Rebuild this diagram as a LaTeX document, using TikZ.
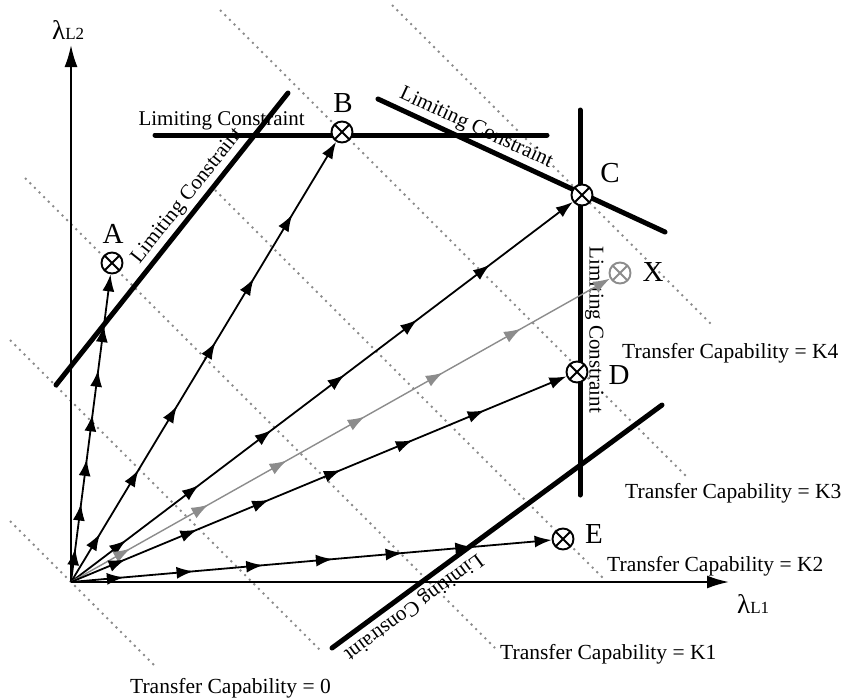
\documentclass[tikz,border=0pt]{standalone}
\usepackage{fontspec}
\setmainfont{Liberation Serif}
\usetikzlibrary{arrows.meta,decorations.markings,calc}
\begin{document}
\begin{tikzpicture}[x=1pt,y=-1pt,
  axis/.style={line width=2pt, -{Latex[length=22pt,width=13pt]}},
  limit/.style={line width=5pt, line cap=round},
  iso/.style={line width=1.8pt, black!45, dash pattern=on 2pt off 4.5pt},
  midarrows/.style={decoration={markings,
      mark=at position 0.11 with {\arrow{Latex[length=17pt,width=12pt]}},
      mark=at position 0.255 with {\arrow{Latex[length=17pt,width=12pt]}},
      mark=at position 0.40 with {\arrow{Latex[length=17pt,width=12pt]}},
      mark=at position 0.545 with {\arrow{Latex[length=17pt,width=12pt]}},
      mark=at position 0.69 with {\arrow{Latex[length=17pt,width=12pt]}},
      mark=at position 0.835 with {\arrow{Latex[length=17pt,width=12pt]}}},
    postaction={decorate}},
  flow/.style={line width=1.8pt, -{Latex[length=17pt,width=12pt]}, midarrows},
  mk/.style={circle, draw=#1, fill=white, line width=1.9pt, minimum size=21pt, inner sep=0pt,
    path picture={\draw[line width=1.9pt, #1] (path picture bounding box.north west) -- (path picture bounding box.south east)
      (path picture bounding box.north east) -- (path picture bounding box.south west);}},
  mk/.default=black,
  ptlabel/.style={font=\fontsize{29}{30}\selectfont, inner sep=0pt},
  tclabel/.style={font=\fontsize{21.5}{24}\selectfont, inner sep=0pt, anchor=base west},
  lclabel/.style={font=\fontsize{21}{24}\selectfont, inner sep=5pt, sloped, above, allow upside down},
]
\fill[white] (0,0) rectangle (848,699);
\useasboundingbox (0,0) rectangle (848,699);

% iso transfer capability lines
\coordinate (t0a) at (10,521);  \coordinate (t0b) at (157,668);
\coordinate (tha) at (10,340);  \coordinate (thb) at (320,650);
\coordinate (t1a) at (25,178);  \coordinate (t1b) at (495,648);
\coordinate (t2a) at (215,190); \coordinate (t2b) at (603,578);
\coordinate (t3a) at (220,10);  \coordinate (t3b) at (687,477);
\coordinate (t4a) at (392,5);   \coordinate (t4b) at (712,325);
\draw[iso] (t0a) -- (t0b);
\draw[iso] (tha) -- (thb);
\draw[iso] (t1a) -- (t1b);
\draw[iso] (t2a) -- (t2b);
\draw[iso] (t3a) -- (t3b);
\draw[iso] (t4a) -- (t4b);

% axes
\coordinate (O) at (71,582);
\coordinate (yend) at (71,45);
\coordinate (xend) at (729,582);
\draw[axis] (O) -- (yend);
\draw[axis] (O) -- (xend);
\node[anchor=base west, inner sep=0pt] (lx) at (737,613) {{\fontsize{27}{27}\selectfont λ}{\fontsize{17}{17}\selectfont L1}};
\node[anchor=base west, inner sep=0pt] (ly) at (52,39) {{\fontsize{27}{27}\selectfont λ}{\fontsize{17}{17}\selectfont L2}};

% limiting constraints
\coordinate (c1a) at (56,385);  \coordinate (c1b) at (288,93);
\coordinate (c2a) at (155,135); \coordinate (c2b) at (547,135);
\coordinate (c3a) at (378,99);  \coordinate (c3b) at (665,232);
\coordinate (c4a) at (580,110); \coordinate (c4b) at (580,495);
\coordinate (c5a) at (662,405); \coordinate (c5b) at (332,648);
\path (c1a) -- (c1b) node[lclabel, pos=0.616] (l1) {Limiting Constraint};
\path (c2a) -- (c2b) node[lclabel, pos=0.17] (l2) {Limiting Constraint};
\path (c3a) -- (c3b) node[lclabel, pos=0.32] (l3) {Limiting Constraint};
\path (c4a) -- (c4b) node[lclabel, pos=0.571] (l4) {Limiting Constraint};
\path (c5a) -- (c5b) node[lclabel, pos=0.78] (l5) {Limiting Constraint};
\draw[limit] (c1a) -- (c1b);
\draw[limit] (c2a) -- (c2b);
\draw[limit] (c3a) -- (c3b);
\draw[limit] (c4a) -- (c4b);
\draw[limit] (c5a) -- (c5b);

% operating points
\node[mk] (mA) at (112,263) {};
\node[mk] (mB) at (342,132) {};
\node[mk] (mC) at (582,195) {};
\node[mk=black!45] (mX) at (620,273) {};
\node[mk] (mD) at (577,372) {};
\node[mk] (mE) at (563,539) {};

% paths
\draw[flow] (O) -- (mA);
\draw[flow] (O) -- (mB);
\draw[flow] (O) -- (mC);
\draw[flow, black!45, line width=1.4pt] (O) -- (mX);
\draw[flow] (O) -- (mD);
\draw[flow] (O) -- (mE);

% point labels
\node[ptlabel] (pA) at (113,234) {A};
\node[ptlabel] (pB) at (343,103) {B};
\node[ptlabel] (pC) at (610,173) {C};
\node[ptlabel] (pX) at (653,272) {X};
\node[ptlabel] (pD) at (619,375) {D};
\node[ptlabel] (pE) at (594,534) {E};

% transfer capability labels
\node[tclabel] (k4) at (622,358) {Transfer Capability = K4};
\node[tclabel] (k3) at (625,498) {Transfer Capability = K3};
\node[tclabel] (k2) at (607,571) {Transfer Capability = K2};
\node[tclabel] (k1) at (500,659) {Transfer Capability = K1};
\node[tclabel] (k0) at (130,693) {Transfer Capability = 0};
\end{tikzpicture}
\end{document}
